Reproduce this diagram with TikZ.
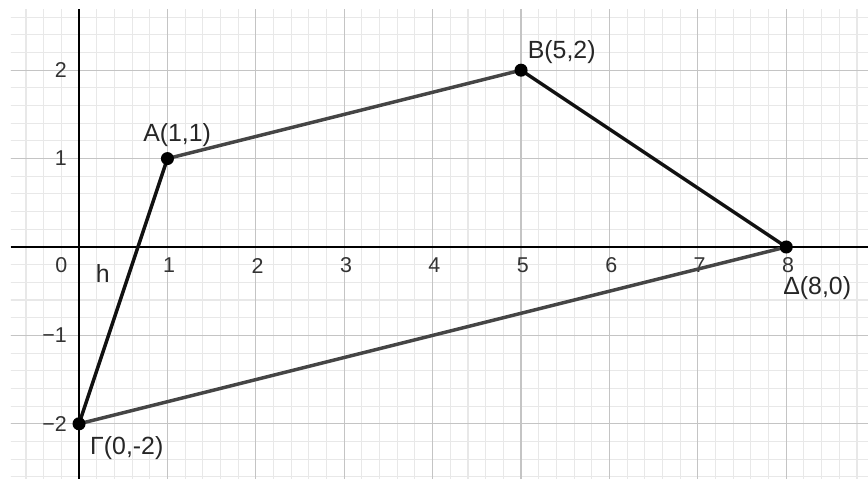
\documentclass[tikz,border=0pt]{standalone}
\usepackage{fontspec}
\setmainfont{Liberation Sans}
\definecolor{minorgrid}{HTML}{E8E8E8}
\definecolor{majorgrid}{HTML}{C4C4C4}
\definecolor{darkseg}{HTML}{454545}
\definecolor{blackseg}{HTML}{111111}
\definecolor{ticktext}{HTML}{333333}
\tikzset{
  ticklab/.style={font=\fontsize{6.9}{8}\selectfont, text=ticktext, inner sep=0pt},
  ptlab/.style={font=\fontsize{8}{9}\selectfont, text=black!85, inner sep=0pt},
  ptdot/.style={circle, fill=black, inner sep=0pt, minimum size=4.2pt},
  segdark/.style={draw=darkseg, line width=1.1pt},
  segblack/.style={draw=blackseg, line width=1.1pt},
}
\begin{document}
\begin{tikzpicture}
\useasboundingbox[fill=white] (-0.894,-2.624) rectangle (8.925,2.794);
\begin{scope}
\clip (-0.77,-2.624) rectangle (8.925,2.69);
\draw[minorgrid, line width=0.35pt, step=0.2] (-1,-3) grid (9.2,3);
\draw[majorgrid, line width=0.4pt, step=1] (-1,-3) grid (9.2,3);
\end{scope}
% axes
\draw[black, line width=0.8pt] (-0.77,0) -- (8.925,0);
\draw[black, line width=0.8pt] (0,-2.624) -- (0,2.69);
% tick labels
\node[ticklab] at (-0.2,-0.21) {0};
\foreach \k in {1,...,8} \node[ticklab] at (\k+0.02,-0.21) {\k};
\node[ticklab, anchor=east] at (-0.13,2) {2};
\node[ticklab, anchor=east] at (-0.13,1) {1};
\node[ticklab, anchor=east] at (-0.13,-1) {−1};
\node[ticklab, anchor=east] at (-0.13,-2) {−2};
% points
\coordinate (A) at (1,1);
\coordinate (B) at (5,2);
\coordinate (D) at (8,0);
\coordinate (G) at (0,-2);
\draw[segdark] (A) -- (B);
\draw[segdark] (G) -- (D);
\draw[segblack] (B) -- (D);
\draw[segblack] (A) -- (G);
\node[ptdot] (nA) at (A) {};
\node[ptdot] (nB) at (B) {};
\node[ptdot] (nD) at (D) {};
\node[ptdot] (nG) at (G) {};
\node[ptlab] (lA) at (1.11,1.27) {A(1,1)};
\node[ptlab] (lB) at (5.46,2.2) {B(5,2)};
\node[ptlab] (lD) at (8.35,-0.47) {Δ(8,0)};
\node[ptlab] (lG) at (0.54,-2.27) {Γ(0,-2)};
\node[ptlab] (lh) at (0.27,-0.30) {h};
\end{tikzpicture}
\end{document}
